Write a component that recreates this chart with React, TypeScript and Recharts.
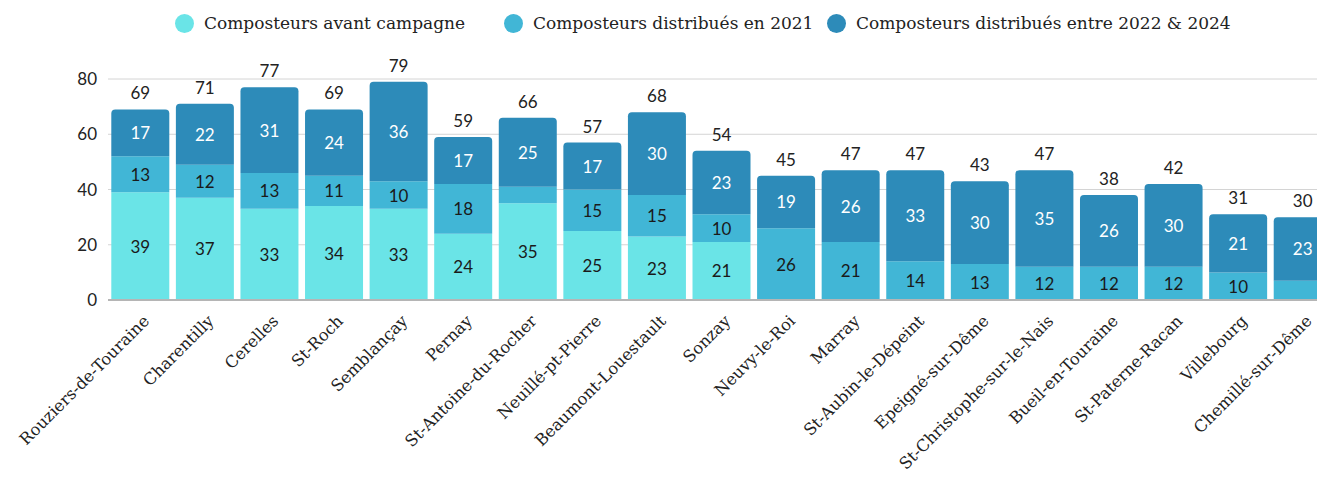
import React from 'react';
import { BarChart, Bar, XAxis, YAxis, CartesianGrid, Legend, LabelList } from 'recharts';

const communes = [
  'Rouziers-de-Touraine', 'Charentilly', 'Cerelles', 'St-Roch', 'Semblançay', 'Pernay',
  'St-Antoine-du-Rocher', 'Neuillé-pt-Pierre', 'Beaumont-Louestault', 'Sonzay', 'Neuvy-le-Roi',
  'Marray', 'St-Aubin-le-Dépeint', 'Epeigné-sur-Dême', 'St-Christophe-sur-le-Nais',
  'Bueil-en-Touraine', 'St-Paterne-Racan', 'Villebourg', 'Chemillé-sur-Dême',
];
const avantCampagne = [39, 37, 33, 34, 33, 24, 35, 25, 23, 21, 0, 0, 0, 0, 0, 0, 0, 0, 0];
const distribues2021 = [13, 12, 13, 11, 10, 18, 6, 15, 15, 10, 26, 21, 14, 13, 12, 12, 12, 10, 7];
const distribues2022a2024 = [17, 22, 31, 24, 36, 17, 25, 17, 30, 23, 19, 26, 33, 30, 35, 26, 30, 21, 23];
const totals = [69, 71, 77, 69, 79, 59, 66, 57, 68, 54, 45, 47, 47, 43, 47, 38, 42, 31, 30];
const yTicks = [0, 20, 40, 60, 80];

const seriesNames = [
  'Composteurs avant campagne',
  'Composteurs distribués en 2021',
  'Composteurs distribués entre 2022 & 2024',
];
const colors = ['#6ae4e7', '#41b6d6', '#2d8bb9'];

const data = communes.map((c, i) => ({
  name: c,
  a: avantCampagne[i],
  b: distribues2021[i],
  c: distribues2022a2024[i],
  total: totals[i],
}));

const serifFont = '"DejaVu Serif", serif';
const numFont = 'Lato, "Noto Sans", sans-serif';

const CatTick = (props: any) => {
  const { x, y, payload } = props;
  const px = x + 10;
  const py = y + 14;
  return (
    <text
      x={px}
      y={py}
      transform={`rotate(-45 ${px} ${py})`}
      textAnchor="end"
      fontFamily={serifFont}
      fontSize={16.3}
      fill="#222"
    >
      {payload.value}
    </text>
  );
};

const makeInner = (fill: string) => (props: any) => {
  const { x, y, width, height, value } = props;
  if (value == null || value < 8) return null;
  return (
    <text
      x={x + width / 2}
      y={y + height / 2}
      textAnchor="middle"
      dominantBaseline="central"
      fontFamily={numFont}
      fontSize={17}
      fill={fill}
    >
      {value}
    </text>
  );
};

const TotalLabel = (props: any) => {
  const { x, y, width, value } = props;
  return (
    <text
      x={x + width / 2}
      y={y - 10}
      textAnchor="middle"
      fontFamily={numFont}
      fontSize={17}
      fill="#222"
    >
      {value}
    </text>
  );
};

const itemWidths = [329, 323, 440];

const LegendContent = () => (
  <div style={{ display: 'flex', paddingLeft: 167, paddingTop: 5 }}>
    {seriesNames.map((n, i) => (
      <div key={n} style={{ display: 'flex', alignItems: 'center', width: itemWidths[i] }}>
        <span
          style={{
            display: 'inline-block',
            width: 19,
            height: 19,
            borderRadius: '50%',
            background: colors[i],
            marginRight: 10,
            flexShrink: 0,
          }}
        />
        <span style={{ fontFamily: serifFont, fontSize: 17, color: '#222', whiteSpace: 'nowrap' }}>{n}</span>
      </div>
    ))}
  </div>
);

export default function App() {
  return (
    <>
      <style>{'html, body { overflow: hidden; } body { margin: 0; padding: 8px 0 0 8px; }'}</style>
      <div style={{ width: 1309, height: 474, overflow: 'hidden' }}>
        <BarChart
          width={1309}
          height={466}
          data={data}
          margin={{ top: 0, right: -18, bottom: 0, left: 10 }}
          barCategoryGap={3.3}
          style={{ overflow: 'visible' }}
        >
          <Legend
            verticalAlign="top"
            content={<LegendContent />}
            wrapperStyle={{ top: 0, left: 0, width: 1309, height: 71, boxSizing: 'border-box' }}
          />
          <CartesianGrid vertical={false} stroke="#d4d4d4" />
          <XAxis
            dataKey="name"
            interval={0}
            height={174}
            tickLine={false}
            axisLine={{ stroke: '#b5b5b5', strokeWidth: 2 }}
            tick={<CatTick />}
          />
          <YAxis
            width={90}
            domain={[0, 80]}
            ticks={yTicks}
            axisLine={false}
            tickLine={false}
            tickMargin={5}
            tick={{ fontFamily: numFont, fontSize: 17, fill: '#222' }}
          />
          <Bar dataKey="a" name={seriesNames[0]} stackId="s" fill={colors[0]} isAnimationActive={false}>
            <LabelList dataKey="a" content={makeInner('#1a1a1a')} />
          </Bar>
          <Bar dataKey="b" name={seriesNames[1]} stackId="s" fill={colors[1]} isAnimationActive={false}>
            <LabelList dataKey="b" content={makeInner('#1a1a1a')} />
          </Bar>
          <Bar
            dataKey="c"
            name={seriesNames[2]}
            stackId="s"
            fill={colors[2]}
            radius={[4, 4, 0, 0]}
            isAnimationActive={false}
          >
            <LabelList dataKey="c" content={makeInner('#ffffff')} />
            <LabelList dataKey="total" content={<TotalLabel />} />
          </Bar>
        </BarChart>
      </div>
    </>
  );
}
